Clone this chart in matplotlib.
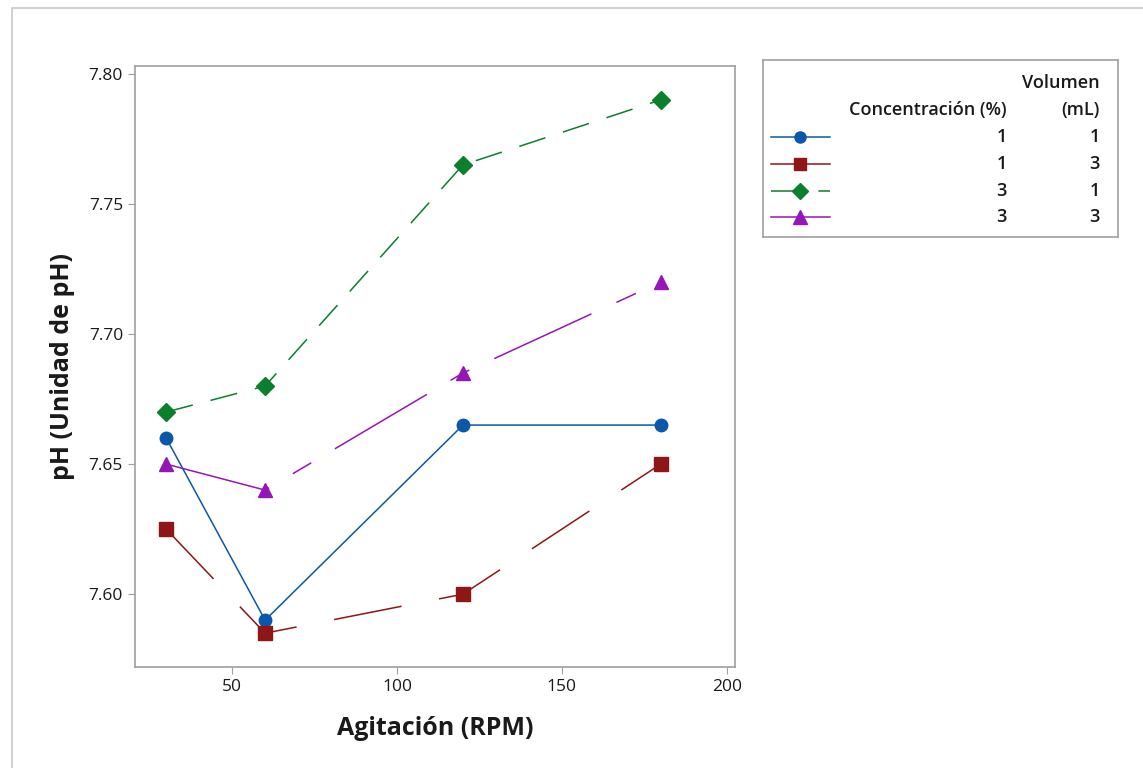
import matplotlib
matplotlib.use("Agg")
import matplotlib.pyplot as plt
from matplotlib.lines import Line2D
from matplotlib.patches import Rectangle

plt.rcParams['font.family'] = ['Open Sans', 'DejaVu Sans']

# data
rpm = [30, 60, 120, 180]
ph_c1_v1 = [7.660, 7.590, 7.665, 7.665]
ph_c1_v3 = [7.625, 7.585, 7.600, 7.650]
ph_c3_v1 = [7.670, 7.680, 7.765, 7.790]
ph_c3_v3 = [7.650, 7.640, 7.685, 7.720]
conc = ['1', '1', '3', '3']
vol = ['1', '3', '1', '3']

series = [ph_c1_v1, ph_c1_v3, ph_c3_v1, ph_c3_v3]
colors = ['#0B58AA', '#8E1616', '#0A7F2C', '#9416B6']
markers = ['o', 's', 'D', '^']
msizes = [9, 10, 9.5, 10.5]
dashes = [None, (45, 25), (18, 12), (70, 18, 14, 18)]

fig = plt.figure(figsize=(11.43, 7.68), dpi=100)

# outer frame
fig.patches.append(Rectangle((12 / 1143, -0.01), 1.02, 1 - 8 / 768 + 0.01,
                             transform=fig.transFigure, fill=False,
                             edgecolor='#C8C8C8', linewidth=1.2))

ax = fig.add_axes([0.118, 0.1315, 0.525, 0.7825])
for y, c, m, ms, d in zip(series, colors, markers, msizes, dashes):
    line, = ax.plot(rpm, y, color=c, marker=m, markersize=ms, linewidth=1.1)
    if d is not None:
        line.set_dashes(d)

ax.set_xlim(20.5, 202.5)
ax.set_ylim(7.572, 7.803)
ax.set_xticks([50, 100, 150, 200])
ax.set_yticks([7.60, 7.65, 7.70, 7.75, 7.80])
ax.set_yticklabels(['7.60', '7.65', '7.70', '7.75', '7.80'])
for s in ax.spines.values():
    s.set_color('#A0A0A0')
    s.set_linewidth(1.2)
ax.tick_params(colors='#A0A0A0', labelcolor='#1a1a1a', labelsize=12.5, length=5)
ax.set_xlabel('Agitación (RPM)', fontsize=18, fontweight='bold', color='#1a1a1a', labelpad=15)
ax.set_ylabel('pH (Unidad de pH)', fontsize=18, fontweight='bold', color='#1a1a1a', labelpad=10)

# legend box, drawn in pixel coords
lg = fig.add_axes([763 / 1143, 1 - 237 / 768, 355 / 1143, 177 / 768])
lg.set_xlim(763, 1118)
lg.set_ylim(237, 60)
lg.set_xticks([])
lg.set_yticks([])
for s in lg.spines.values():
    s.set_color('#A0A0A0')
    s.set_linewidth(1.2)

txt = dict(fontsize=13, fontweight='semibold', color='#1a1a1a', ha='right', va='center')
lg.text(1100, 83, 'Volumen', **txt)
lg.text(1007, 110, 'Concentración (%)', **txt)
lg.text(1100, 110, '(mL)', **txt)
rows = [137, 164, 191, 217]
for ry, c, m, ms, d, cv, vv in zip(rows, colors, markers, msizes, dashes, conc, vol):
    h = Line2D([771, 830], [ry, ry], color=c, linewidth=1.1)
    if d is not None and d == (18, 12):
        h.set_dashes((22, 9))
    lg.add_line(h)
    lg.plot([800], [ry], marker=m, color=c, markersize=ms - 1, linestyle='none')
    lg.text(1007, ry, cv, **txt)
    lg.text(1100, ry, vv, **txt)

fig.savefig('out.png', dpi=100)
